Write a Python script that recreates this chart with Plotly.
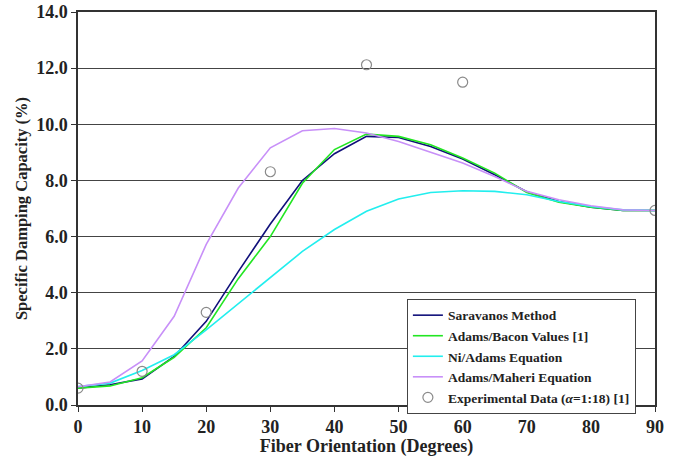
import plotly.graph_objects as go

angles = [0, 5, 10, 15, 20, 25, 30, 35, 40, 45, 50, 55, 60, 65, 70, 75, 80, 85, 90]
saravanos = [0.60, 0.72, 0.93, 1.73, 2.98, 4.75, 6.45, 8.00, 8.95, 9.57, 9.53, 9.21, 8.76, 8.20, 7.60, 7.25, 7.05, 6.93, 6.93]
adams_bacon = [0.60, 0.68, 0.97, 1.70, 2.75, 4.50, 6.00, 7.90, 9.10, 9.65, 9.57, 9.27, 8.80, 8.26, 7.57, 7.22, 7.05, 6.93, 6.93]
ni_adams = [0.66, 0.78, 1.23, 1.79, 2.68, 3.60, 4.52, 5.47, 6.25, 6.90, 7.34, 7.57, 7.63, 7.61, 7.49, 7.25, 7.07, 6.95, 6.93]
adams_maheri = [0.65, 0.82, 1.57, 3.16, 5.72, 7.73, 9.16, 9.77, 9.85, 9.69, 9.39, 9.00, 8.62, 8.14, 7.61, 7.31, 7.10, 6.95, 6.93]
exp_angles = [0, 10, 20, 30, 45, 60, 90]
exp_values = [0.60, 1.20, 3.30, 8.31, 12.12, 11.50, 6.93]

y_ticks = [0, 2, 4, 6, 8, 10, 12, 14]
x_ticks = [0, 10, 20, 30, 40, 50, 60, 70, 80, 90]

FONT = "Liberation Serif, Times New Roman, serif"

fig = go.Figure()
fig.add_trace(go.Scatter(x=angles, y=saravanos, mode="lines", name="Saravanos Method",
                         line=dict(color="#10107a", width=1.6)))
fig.add_trace(go.Scatter(x=angles, y=adams_bacon, mode="lines", name="Adams/Bacon Values [1]",
                         line=dict(color="#22e622", width=1.6)))
fig.add_trace(go.Scatter(x=angles, y=ni_adams, mode="lines", name="Ni/Adams Equation",
                         line=dict(color="#22eeee", width=1.6)))
fig.add_trace(go.Scatter(x=angles, y=adams_maheri, mode="lines", name="Adams/Maheri Equation",
                         line=dict(color="#c890f8", width=1.6)))
fig.add_trace(go.Scatter(x=exp_angles, y=exp_values, mode="markers",
                         name="Experimental Data (<i>α</i>=1:18) [1]",
                         marker=dict(symbol="circle-open", size=10, color="#8a8a8a",
                                     line=dict(width=1.2, color="#8a8a8a"))))

fig.update_layout(
    width=677, height=457,
    margin=dict(l=78, r=22, t=12, b=52),
    paper_bgcolor="white", plot_bgcolor="white",
    font=dict(family=FONT, size=16, color="#222", weight="bold"),
    showlegend=True,
    legend=dict(x=0.570, y=0.27, xanchor="left", yanchor="top",
                bgcolor="white", bordercolor="#444", borderwidth=1,
                font=dict(family=FONT, size=13.5, color="#222", weight="bold"),
                tracegroupgap=0, itemwidth=30),
)
fig.update_xaxes(range=[0, 90], tickvals=x_ticks, showgrid=False, zeroline=False,
                 showline=True, linecolor="#333", linewidth=1.5, mirror=True,
                 ticks="outside", ticklen=5, tickcolor="#333", tickwidth=1,
                 tickfont=dict(size=18), automargin=False,
                 title=dict(text="Fiber Orientation (Degrees)", font=dict(size=18), standoff=4))
fig.update_yaxes(range=[0, 14], tickvals=y_ticks, tickformat=".1f", showgrid=True,
                 gridcolor="#444", gridwidth=1, zeroline=False,
                 showline=True, linecolor="#333", linewidth=1.5, mirror=True,
                 ticks="outside", ticklen=5, tickcolor="#333", tickwidth=1,
                 tickfont=dict(size=18), automargin=False,
                 title=dict(text="Specific Damping Capacity (%)", font=dict(size=16.5), standoff=4))

fig.write_html("out.html", config={"displayModeBar": False},
               post_script="document.body.style.margin='0';")
